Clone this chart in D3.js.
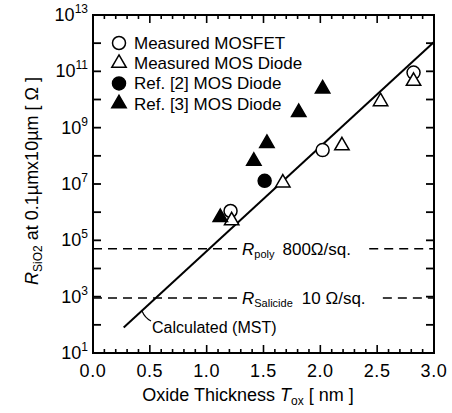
<!DOCTYPE html>
<html><head><meta charset="utf-8">
<script src="https://cdn.jsdelivr.net/npm/d3@7"></script>
<style>body{margin:0;background:#fff}svg{display:block}text{font-family:"Liberation Sans",Arial,sans-serif;fill:#000}</style>
</head><body><svg id="c" width="452" height="413"></svg>
<script>
// data
const measMosfetX = [1.21, 2.02, 2.82];
const measMosfetY = [1.1e6, 1.6e8, 9e10];
const measDiodeX = [1.22, 1.67, 2.19, 2.53, 2.82];
const measDiodeY = [5e5, 1.1e7, 2.3e8, 8.5e9, 4.5e10];
const ref2X = [1.51];
const ref2Y = [1.3e7];
const ref3X = [1.12, 1.415, 1.53, 1.81, 2.02];
const ref3Y = [6.5e5, 6.5e7, 2.8e8, 3.5e9, 2.4e10];
const calcX = [0.27, 3.0];
const calcY = [80, 1.1e12];
const refLevels = [5e4, 900];
const xTicks = [0, 0.5, 1.0, 1.5, 2.0, 2.5, 3.0];
const yTickExp = [13, 11, 9, 7, 5, 3, 1];

const svg = d3.select("#c");
const L = 93, R = 434, T = 15, B = 353;
const x = d3.scaleLinear().domain([0, 3]).range([L, R]);
const y = d3.scaleLog().domain([10, 1e13]).range([B, T]);

// ticks
const g = svg.append("g");
const minor = d3.range(0, 31).map(i => i / 10);
minor.forEach((v, i) => {
  const len = (i % 5 === 0) ? 8 : 4;
  g.append("line").attr("x1", x(v)).attr("x2", x(v)).attr("y1", B).attr("y2", B - len).attr("stroke", "#000").attr("stroke-width", 1.6);
  g.append("line").attr("x1", x(v)).attr("x2", x(v)).attr("y1", T).attr("y2", T + len).attr("stroke", "#000").attr("stroke-width", 1.6);
});
d3.range(1, 14).forEach(e => {
  const yy = y(Math.pow(10, e));
  g.append("line").attr("x1", L).attr("x2", L + 8).attr("y1", yy).attr("y2", yy).attr("stroke", "#000").attr("stroke-width", 1.8);
  g.append("line").attr("x1", R).attr("x2", R - 8).attr("y1", yy).attr("y2", yy).attr("stroke", "#000").attr("stroke-width", 1.8);
});

// frame
svg.append("rect").attr("x", L).attr("y", T).attr("width", R - L).attr("height", B - T)
  .attr("fill", "none").attr("stroke", "#000").attr("stroke-width", 2);

// x tick labels
xTicks.forEach(v => {
  svg.append("text").attr("x", x(v)).attr("y", 377).attr("text-anchor", "middle")
    .attr("font-size", 18).attr("letter-spacing", 0.6).text(v.toFixed(1));
});
// y tick labels
yTickExp.forEach(e => {
  const t = svg.append("text").attr("x", 88).attr("y", y(Math.pow(10, e)) + 6).attr("text-anchor", "end").attr("font-size", 18);
  t.append("tspan").text("10");
  t.append("tspan").attr("font-size", 12).attr("dy", -8).text(e);
});

// axis titles
const xt = svg.append("text").attr("x", 248).attr("y", 401).attr("text-anchor", "middle").attr("font-size", 18);
xt.append("tspan").text("Oxide Thickness ");
xt.append("tspan").attr("font-style", "italic").text("T");
xt.append("tspan").attr("font-size", 12).attr("dy", 4).text("ox");
xt.append("tspan").attr("dy", -4).text(" [ nm ]");

const yt = svg.append("text").attr("transform", "translate(38,181) rotate(-90)").attr("text-anchor", "middle").attr("font-size", 18);
yt.append("tspan").attr("font-style", "italic").text("R");
yt.append("tspan").attr("font-size", 12).attr("dy", 4).text("SiO2");
yt.append("tspan").attr("dy", -4).text(" at 0.1µmx10µm  [ Ω ]");

// reference dashed lines
const dash = "9,6";
const segs = [[0, 1.3], [2.43, 3.0]];
const segs2 = [[0, 1.3], [2.55, 3.0]];
[[refLevels[0], segs], [refLevels[1], segs2]].forEach(([lv, ss]) => {
  ss.forEach(s => {
    svg.append("line").attr("x1", x(s[0])).attr("x2", x(s[1])).attr("y1", y(lv)).attr("y2", y(lv))
      .attr("stroke", "#000").attr("stroke-width", 1.6).attr("stroke-dasharray", dash);
  });
});
const r1 = svg.append("text").attr("x", 242).attr("y", y(refLevels[0]) + 6).attr("font-size", 17);
r1.append("tspan").attr("font-style", "italic").text("R");
r1.append("tspan").attr("font-size", 11).attr("dy", 3).text("poly");
r1.append("tspan").attr("dy", -3).attr("dx", 8).text("800Ω/sq.");
const r2 = svg.append("text").attr("x", 242).attr("y", y(refLevels[1]) + 6).attr("font-size", 17);
r2.append("tspan").attr("font-style", "italic").text("R");
r2.append("tspan").attr("font-size", 11).attr("dy", 3).text("Salicide");
r2.append("tspan").attr("dy", -3).attr("dx", 9).text("10 Ω/sq.");

// calculated line
const line = d3.line().x((d, i) => x(calcX[i])).y((d, i) => y(calcY[i]));
svg.append("path").attr("d", line(calcX)).attr("fill", "none").attr("stroke", "#000").attr("stroke-width", 2);
svg.append("path").attr("d", "M142,311 Q145,318 151,321").attr("fill", "none").attr("stroke", "#000").attr("stroke-width", 1.2);
svg.append("text").attr("x", 152).attr("y", 333).attr("font-size", 16).text("Calculated (MST)");

// markers
const tri = d3.symbol().type(d3.symbolTriangle).size(90);
function circles(xs, ys, fill) {
  xs.forEach((v, i) => svg.append("circle").attr("cx", x(v)).attr("cy", y(ys[i])).attr("r", 6.5)
    .attr("fill", fill).attr("stroke", "#000").attr("stroke-width", 1.5));
}
function tris(xs, ys, fill) {
  xs.forEach((v, i) => svg.append("path").attr("d", tri()).attr("transform", `translate(${x(v)},${y(ys[i])})`)
    .attr("fill", fill).attr("stroke", "#000").attr("stroke-width", 1.5));
}
circles(measMosfetX, measMosfetY, "#fff");
tris(measDiodeX, measDiodeY, "#fff");
circles(ref2X, ref2Y, "#000");
tris(ref3X, ref3Y, "#000");

// legend
const legend = [
  ["circle", "#fff", "Measured MOSFET"],
  ["tri", "#fff", "Measured MOS Diode"],
  ["circle", "#000", "Ref. [2] MOS Diode"],
  ["tri", "#000", "Ref. [3] MOS Diode"]
];
legend.forEach((d, i) => {
  const cy = 43 + i * 20.2;
  if (d[0] === "circle") svg.append("circle").attr("cx", 119).attr("cy", cy).attr("r", 6.5).attr("fill", d[1]).attr("stroke", "#000").attr("stroke-width", 1.5);
  else svg.append("path").attr("d", tri()).attr("transform", `translate(119,${cy})`).attr("fill", d[1]).attr("stroke", "#000").attr("stroke-width", 1.5);
  svg.append("text").attr("x", 134).attr("y", cy + 6).attr("font-size", 17).text(d[2]);
});
</script></body></html>
